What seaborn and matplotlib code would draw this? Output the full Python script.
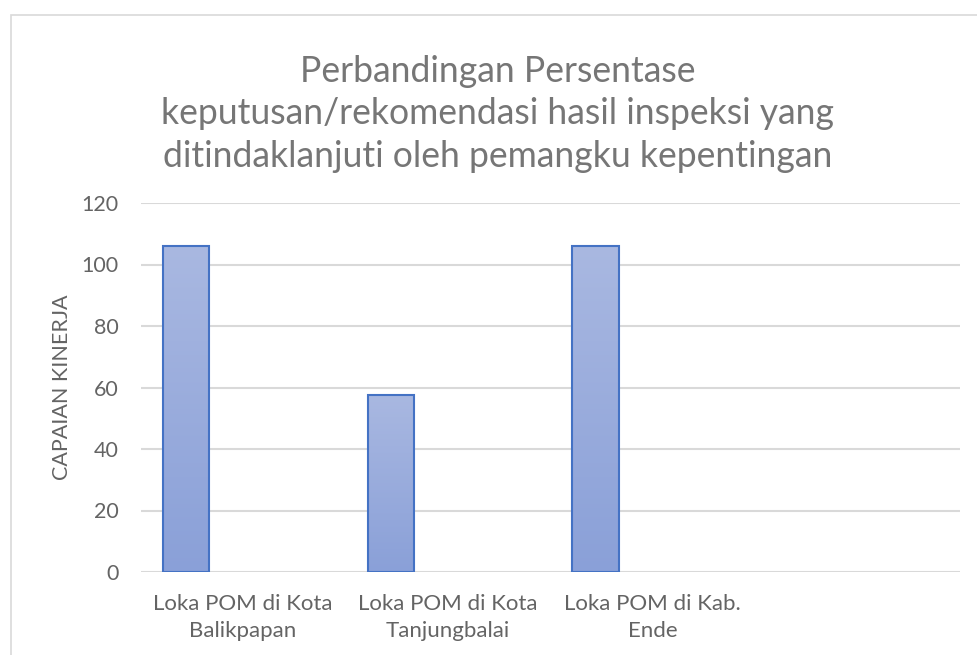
import numpy as np
import pandas as pd
import seaborn as sns
import matplotlib.pyplot as plt
from matplotlib.colors import LinearSegmentedColormap
from matplotlib.patches import Rectangle

# data
lokasi = ["Loka POM di Kota\nBalikpapan", "Loka POM di Kota\nTanjungbalai",
          "Loka POM di Kab.\nEnde", " "]
capaian = [106, 57.6, 106, np.nan]
seri = ["Capaian", "Kosong"]          # second series is empty in the source
y_ticks = [0, 20, 40, 60, 80, 100, 120]
judul = ("Perbandingan Persentase\n"
         "keputusan/rekomendasi hasil inspeksi yang\n"
         "ditindaklanjuti oleh pemangku kepentingan")
label_y = "CAPAIAN KINERJA"

df = pd.DataFrame({
    "lokasi": lokasi * 2,
    "seri": [seri[0]] * len(lokasi) + [seri[1]] * len(lokasi),
    "nilai": capaian + [np.nan] * len(lokasi),
})

sns.set_style("white")
plt.rcParams["font.family"] = ["Lato", "DejaVu Sans"]

W, H = 978, 655
fig = plt.figure(figsize=(W / 100, H / 100), dpi=100)
ax = fig.add_axes([140.7 / W, 1 - 572 / H, (960 - 140.7) / W, 369 / H])

sns.barplot(data=df, x="lokasi", y="nilai", hue="seri", order=lokasi,
            hue_order=seri, palette=["#4472c4", "#4472c4"], errorbar=None,
            width=1.115, gap=0.592, dodge=True, legend=False, ax=ax,
            edgecolor="#4472c4", linewidth=1.5)

# vertical gradient fill like the Excel style
cmap = LinearSegmentedColormap.from_list("grad", ["#8aa0d8", "#a9b8e1"])
grad = np.linspace(0, 1, 256).reshape(-1, 1)
for p in list(ax.patches):
    h = p.get_height()
    if not np.isfinite(h) or h == 0:
        continue
    x0 = p.get_x()
    x1 = x0 + p.get_width()
    p.set_facecolor("none")
    p.set_zorder(3)
    im = ax.imshow(grad, cmap=cmap, origin="lower", aspect="auto",
                   extent=(x0, x1, 0, h), zorder=2)
    im.set_clip_path(p)

ax.set_xlim(-0.5, len(lokasi) - 0.5)
ax.set_ylim(0, 120)
ax.set_yticks(y_ticks)
ax.set_axisbelow(True)
ax.grid(axis="y", color="#d9d9d9", linewidth=1.5)
ax.grid(axis="x", visible=False)
for s in ax.spines.values():
    s.set_visible(False)

ax.tick_params(axis="both", length=0, labelsize=15.5, labelcolor="#646464")
ax.tick_params(axis="x", labelsize=16, pad=16)
ax.tick_params(axis="y", pad=16)
for t in ax.get_xticklabels():
    t.set_linespacing(1.4)
ax.set_xlabel("")
ax.set_ylabel(label_y, fontsize=15.5, color="#646464", labelpad=7)

fig.text(498 / W, 1 - 114 / H, judul, ha="center", va="center",
         fontsize=25.6, color="#767676", linespacing=1.36)

# light chart-area frame (cut off at right and bottom in the source)
fig.patches.append(Rectangle((10.5 / W, -0.1), 1.2, 1 - 15 / H + 0.1,
                             transform=fig.transFigure, fill=False,
                             edgecolor="#d9d9d9", linewidth=1.2))

fig.savefig("out.png", dpi=100)
